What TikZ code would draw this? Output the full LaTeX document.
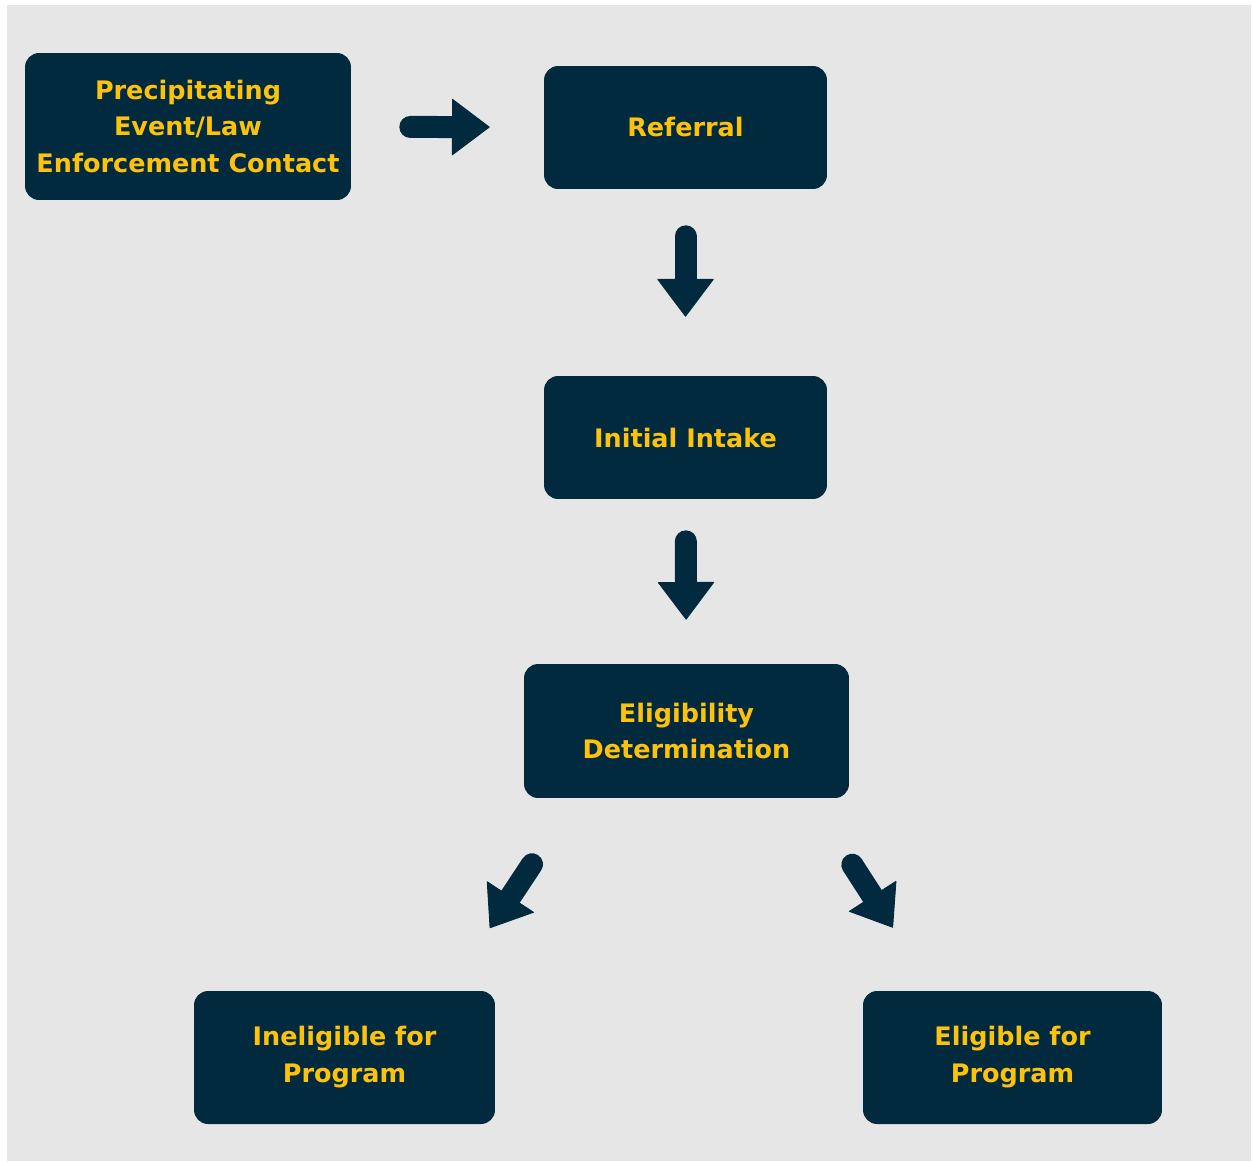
\documentclass[tikz,border=0pt]{standalone}
\usepackage{fontspec}
\setmainfont{DejaVu Sans}
\usepackage{xcolor}
\definecolor{flownavy}{RGB}{1,42,63}
\definecolor{flowgold}{RGB}{255,194,10}
\definecolor{flowbg}{RGB}{230,230,230}
\usetikzlibrary{arrows.meta,positioning}

\begin{document}
\begin{tikzpicture}[
  x=0.02cm, y=-0.02cm,
  stagebox/.style={
    rectangle, rounded corners=0.28cm,
    fill=flownavy, draw=none,
    minimum height=2.46cm,
    font=\fontsize{14.5}{21}\selectfont\bfseries,
    align=center,
    text=flowgold
  },
  flowarrow/.style={
    -{Triangle[length=0.76cm, width=1.14cm, line width=0.5pt, round]},
    line width=0.44cm, line cap=round, draw=flownavy, fill=flownavy
  }
]
\useasboundingbox (0,0) rectangle (1253,1162);
\fill[flowbg] (7,5) rectangle (1251,1161);

\node[stagebox, minimum width=6.52cm, minimum height=2.94cm] (event) at (188,126.5)
  {Precipitating\\Event/Law\\Enforcement Contact};
\node[stagebox, minimum width=5.66cm] (referral) at (685.5,127.5) {Referral};
\node[stagebox, minimum width=5.66cm] (intake) at (685.5,437.5) {Initial Intake};
\node[stagebox, minimum width=6.5cm, minimum height=2.68cm] (determ) at (686.5,731)
  {Eligibility\\Determination};
\node[stagebox, minimum width=6.02cm, minimum height=2.66cm] (inelig) at (344.5,1057.5)
  {Ineligible for\\Program};
\node[stagebox, minimum width=5.98cm, minimum height=2.66cm] (elig) at (1012.5,1057.5)
  {Eligible for\\Program};

\draw[flowarrow, shorten <=1.18cm, shorten >=1.08cm] (event) -- (referral);
\draw[flowarrow, shorten <=0.94cm, shorten >=1.18cm] (referral) -- (intake);
\draw[flowarrow, shorten <=0.84cm, shorten >=0.88cm] (intake) -- (determ);
\draw[flowarrow, shorten <=1.58cm, shorten >=1.5cm]
  ([xshift=-2.22cm]determ.south) -- ([xshift=2.08cm]inelig.north);
\draw[flowarrow, shorten <=1.58cm, shorten >=1.5cm]
  ([xshift=2.46cm]determ.south) -- ([xshift=-1.58cm]elig.north);
\end{tikzpicture}
\end{document}
